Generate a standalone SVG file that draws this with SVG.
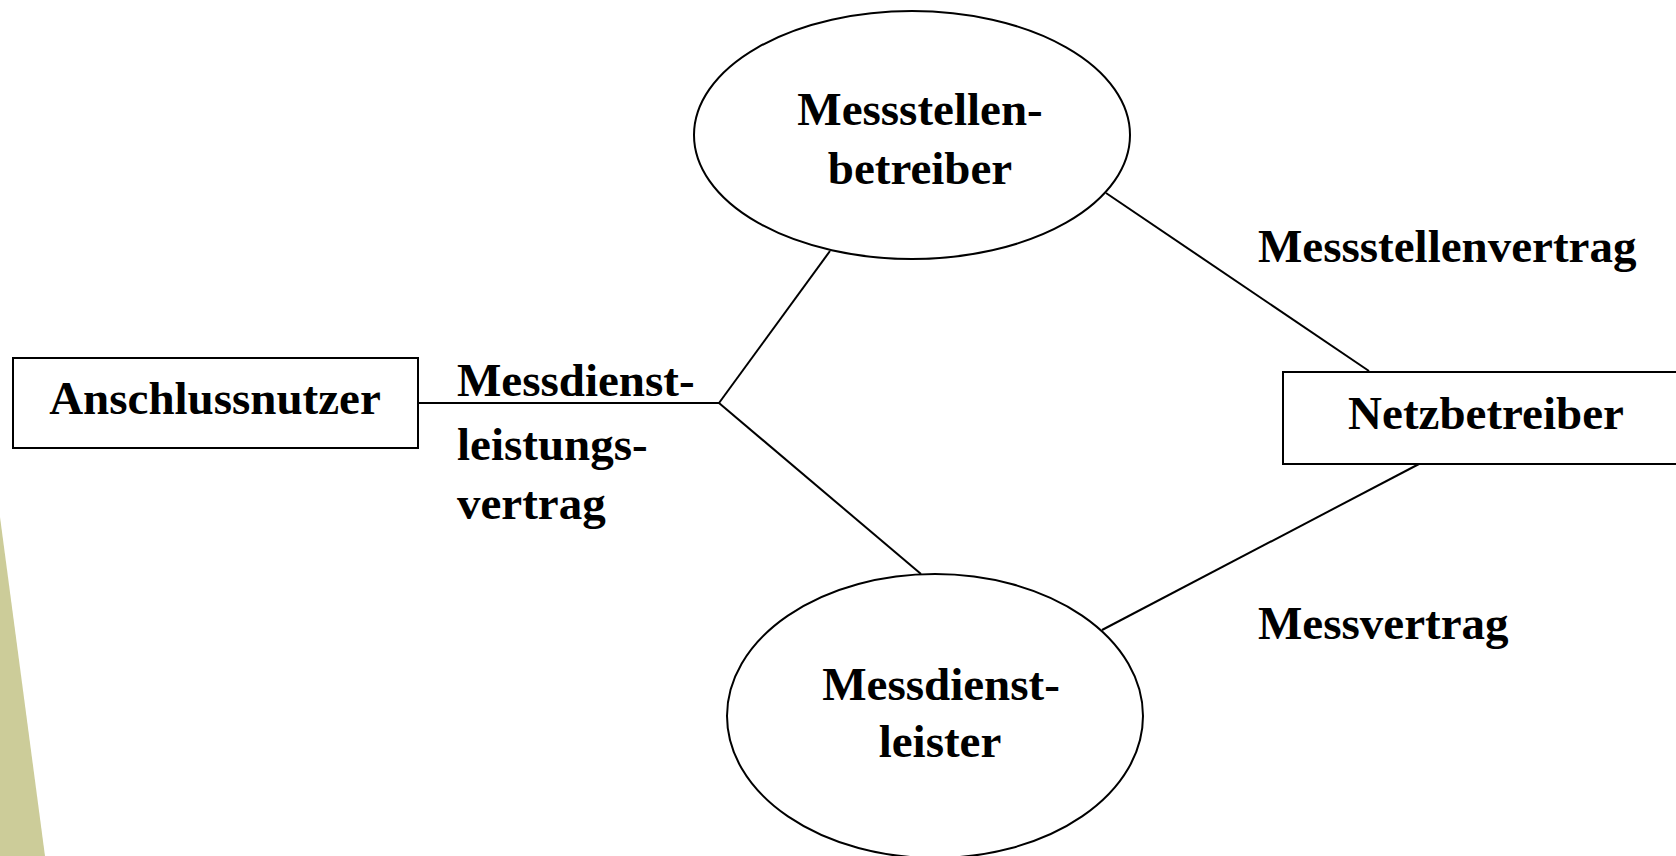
<svg xmlns="http://www.w3.org/2000/svg" width="1676" height="856" viewBox="0 0 1676 856">
<style>
.box{fill:#fff;stroke:#000;stroke-width:2}
.con{stroke:#000;stroke-width:2;fill:none}
text{font-family:"Liberation Serif","Times New Roman",serif;font-weight:bold;font-size:47px;fill:#000}
.c{text-anchor:middle}
</style>
<rect width="1676" height="856" fill="#fff"/>
<polygon points="0,517 45,856 0,856" fill="#CCCC99"/>
<g id="connectors">
<line class="con" x1="418" y1="403" x2="719" y2="403"/>
<line class="con" x1="719" y1="403" x2="830" y2="251"/>
<line class="con" x1="719" y1="403" x2="921" y2="574"/>
<line class="con" x1="1106" y1="193" x2="1369" y2="371"/>
<line class="con" x1="1419" y1="464" x2="1102" y2="630"/>
<text x="457" y="396">Messdienst-</text>
<text x="457" y="460">leistungs-</text>
<text x="457" y="519">vertrag</text>
<text x="1258" y="262">Messstellenvertrag</text>
<text x="1258" y="639">Messvertrag</text>
</g>
<g id="anschlussnutzer">
<rect class="box" x="13" y="358" width="405" height="90"/>
<text class="c" x="215" y="414">Anschlussnutzer</text>
</g>
<g id="messstellenbetreiber">
<ellipse class="box" cx="912" cy="135" rx="218" ry="124"/>
<text class="c" x="920" y="125">Messstellen-</text>
<text class="c" x="920" y="184">betreiber</text>
</g>
<g id="netzbetreiber">
<rect class="box" x="1283" y="372" width="400" height="92"/>
<text class="c" x="1486" y="429">Netzbetreiber</text>
</g>
<g id="messdienstleister">
<ellipse class="box" cx="935" cy="716" rx="208" ry="142"/>
<text class="c" x="941" y="700">Messdienst-</text>
<text class="c" x="940" y="757">leister</text>
</g>
</svg>
